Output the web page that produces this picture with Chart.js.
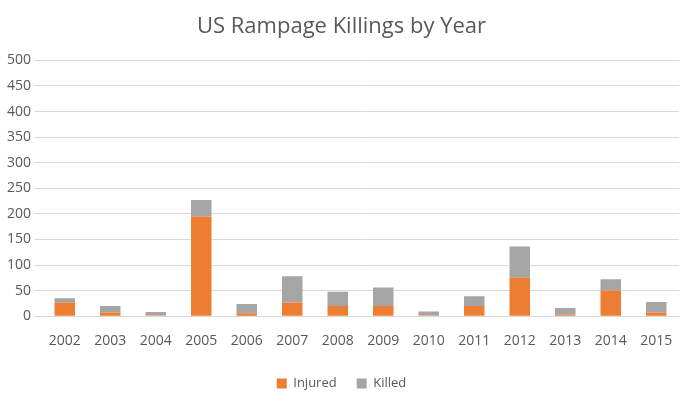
<!DOCTYPE html>
<html><head><meta charset="utf-8">
<script src="https://cdn.jsdelivr.net/npm/chart.js@4"></script>
<style>html,body{margin:0;padding:0;background:#fff}#w{width:693px;height:408px}</style>
</head><body><div id="w"><canvas id="c"></canvas></div>
<script>
const years=['2002','2003','2004','2005','2006','2007','2008','2009','2010','2011','2012','2013','2014','2015'];
const injured=[27,7,2,195,6,27,20,20,2,20,75,3,50,7];
const killed=[8,13,6,32,18,51,28,36,7,19,61,13,22,21];
new Chart(document.getElementById('c'),{type:'bar',
data:{labels:years,datasets:[
{label:'Injured',data:injured,backgroundColor:'#ED7D31'},
{label:'Killed',data:killed,backgroundColor:'#A5A5A5'}]},
options:{responsive:true,maintainAspectRatio:false,animation:false,
layout:{padding:{left:4,right:14,top:10,bottom:8}},
datasets:{bar:{categoryPercentage:1,barPercentage:0.45}},
plugins:{title:{display:true,text:'US Rampage Killings by Year',color:'#595959',font:{family:'Open Sans',size:22,weight:'normal'},padding:{top:4,bottom:20}},
legend:{position:'bottom',labels:{boxWidth:10,boxHeight:10,padding:20,color:'#595959',font:{family:'Open Sans',size:13}}},tooltip:{enabled:false}},
scales:{x:{stacked:true,grid:{display:false},border:{color:'#d9d9d9'},ticks:{padding:8,color:'#595959',font:{family:'Open Sans',size:14}}},
y:{stacked:true,min:0,max:500,ticks:{stepSize:50,color:'#595959',font:{family:'Open Sans',size:14}},grid:{color:'#d9d9d9'},border:{display:false}}}}});
</script></body></html>
